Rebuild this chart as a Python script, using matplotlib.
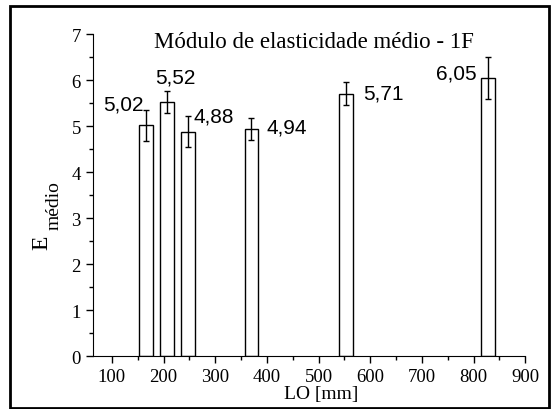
import numpy as np
import matplotlib
matplotlib.use('Agg')
import matplotlib.pyplot as plt
from matplotlib.patches import Rectangle
from matplotlib.ticker import MultipleLocator

# mean elastic modulus per specimen length
lo_mm = [166, 207, 247, 370, 553, 828]
e_medio = [5.02, 5.52, 4.88, 4.94, 5.71, 6.05]
e_err = [0.33, 0.24, 0.34, 0.24, 0.25, 0.45]
labels = ['5,02', '5,52', '4,88', '4,94', '5,71', '6,05']
# label placement: (dx, dy) offset in points, horizontal alignment
label_pos = [((-1.8, 15.4), 'right'), ((6, 18), 'center'), ((4, 11.6), 'left'),
             ((11.1, 1.3), 'left'), ((12.1, 0.6), 'left'), ((-8.2, 3.5), 'right')]

plt.rcParams['font.family'] = 'Liberation Serif'

fig = plt.figure(figsize=(5.52, 4.10), dpi=100)
ax = fig.add_axes([92.7/552, 1-357.3/410, 432.6/552, 322/410])

ax.bar(lo_mm, e_medio, width=26, color='white', edgecolor='black', linewidth=1)
ax.errorbar(lo_mm, e_medio, yerr=e_err, fmt='none', ecolor='black',
            elinewidth=1, capsize=2.5, capthick=1)

for x, y, s, ((dx, dy), ha) in zip(lo_mm, e_medio, labels, label_pos):
    ax.annotate(s, xy=(x, y), xytext=(dx, dy), textcoords='offset points',
                ha=ha, va='center', fontsize=15, family='Liberation Sans')

ax.set_xlim(63, 900)
ax.set_ylim(0, 7)
ax.xaxis.set_major_locator(MultipleLocator(100))
ax.xaxis.set_minor_locator(MultipleLocator(50))
ax.yaxis.set_major_locator(MultipleLocator(1))
ax.yaxis.set_minor_locator(MultipleLocator(0.5))
ax.tick_params(which='both', direction='out', labelsize=13.5, width=1)
ax.tick_params(which='major', length=5)
ax.tick_params(which='minor', length=3)
ax.spines['top'].set_visible(False)
ax.spines['right'].set_visible(False)

ax.text(0.512, 0.978, 'Módulo de elasticidade médio - 1F', transform=ax.transAxes,
        ha='center', va='center', fontsize=16.5)
ax.set_xlabel('LO [mm]', fontsize=14)
ax.xaxis.set_label_coords(0.529, -0.114)
ax.xaxis.label.set_va('center')

# y label: E with a subscript
ax.text(-0.118, 0.3565, 'E', transform=ax.transAxes, rotation=90,
        ha='center', va='center', fontsize=17)
ax.text(-0.0895, 0.470, 'médio', transform=ax.transAxes, rotation=90,
        ha='center', va='center', fontsize=14)

# outer frame
fig.patches.append(Rectangle((10/552, 1/410), 539/552, 402/410, transform=fig.transFigure,
                             fill=False, edgecolor='black', linewidth=2))

fig.savefig('out.png', dpi=100)
